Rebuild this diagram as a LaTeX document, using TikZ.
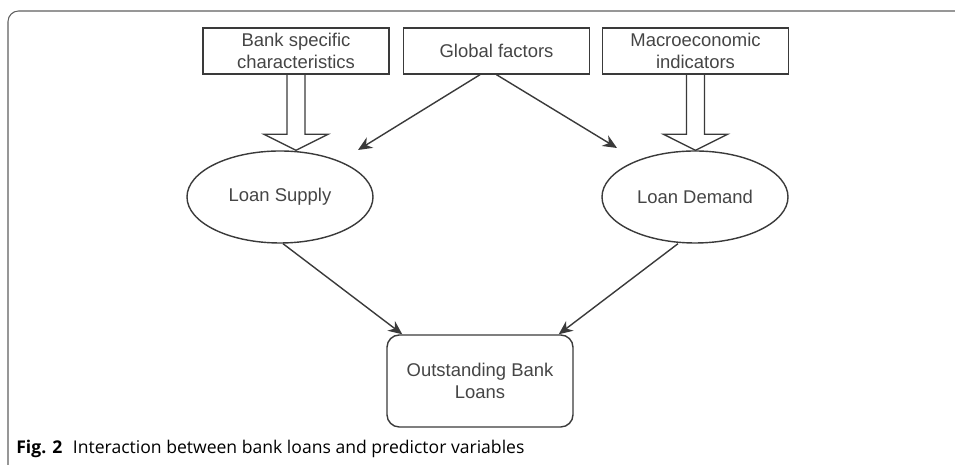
\documentclass[tikz,border=0pt]{standalone}
\usepackage{fontspec}
\setmainfont{Liberation Sans}
\newfontfamily\capfont{Open Sans}
\usepackage{tikz}
\usetikzlibrary{calc,positioning,arrows,arrows.meta,shapes.geometric}
\definecolor{inkgray}{HTML}{3A3A3A}
\definecolor{txtgray}{HTML}{454545}

% hollow block arrow from (#1) down to the tip (#2)
\newcommand{\hollowdown}[2]{%
  \draw[hollow] ([xshift=-0.18cm]#1) -- ([xshift=-0.18cm,yshift=0.32cm]#2)
    -- ([xshift=-0.64cm,yshift=0.32cm]#2) -- (#2)
    -- ([xshift=0.64cm,yshift=0.32cm]#2) -- ([xshift=0.18cm,yshift=0.32cm]#2)
    -- ([xshift=0.18cm]#1);}

\begin{document}
\begin{tikzpicture}[
  font=\fontsize{10.5}{12.6}\selectfont,
  factor/.style={draw=inkgray,line width=0.8pt,text=txtgray,minimum width=3.72cm,
    minimum height=0.92cm,align=center,inner sep=1pt},
  loan/.style={ellipse,draw=inkgray,line width=0.8pt,text=txtgray,minimum width=3.72cm,
    minimum height=1.84cm,inner sep=0pt},
  hollow/.style={draw=inkgray,line width=0.8pt},
  link/.style={draw=inkgray,line width=0.8pt,-{Stealth[length=8pt,width=7pt]}}
]
\useasboundingbox (0,0) rectangle (19.1,9.3);

% frame of the figure
\draw[gray!75!black,line width=0.6pt,rounded corners=6pt] (0.16,0) |- (19.1,9.08);

\node[factor] (bank) at (5.92,8.28) {Bank specific\\characteristics};
\node[factor] (global) at (9.93,8.28) {Global factors};
\node[factor] (macro) at (13.91,8.28) {Macroeconomic\\indicators};

\node[loan] (supply) at (5.6,5.36) {Loan Supply};
\node[loan] (demand) at (13.9,5.36) {Loan Demand};

\node[draw=inkgray,line width=0.8pt,text=txtgray,rounded corners=7pt,minimum width=3.72cm,
  minimum height=1.84cm,align=center] (out) at (9.6,1.68) {Outstanding Bank\\Loans};

\coordinate (stip) at (bank.south |- supply.north);
\coordinate (dtip) at (macro.south |- demand.north);
\hollowdown{bank.south}{stip}
\hollowdown{macro.south}{dtip}

\coordinate (gl) at (7.16,6.3);
\coordinate (gr) at (12.34,6.34);
\draw[link] ([xshift=-0.33cm]global.south) -- (gl);
\draw[link] (global.south) -- (gr);

\draw[link] ([xshift=0.06cm]supply.south) -- ([xshift=0.32cm]out.north west);
\draw[link] ([xshift=-0.34cm]demand.south) -- ([xshift=-0.3cm]out.north east);

\node[anchor=base west,inner sep=0pt,font=\capfont\fontsize{10}{12}\selectfont] (cap) at (0.32,0.22)
  {\textbf{Fig. 2}\hspace{0.6em}Interaction between bank loans and predictor variables};
\end{tikzpicture}
\end{document}
